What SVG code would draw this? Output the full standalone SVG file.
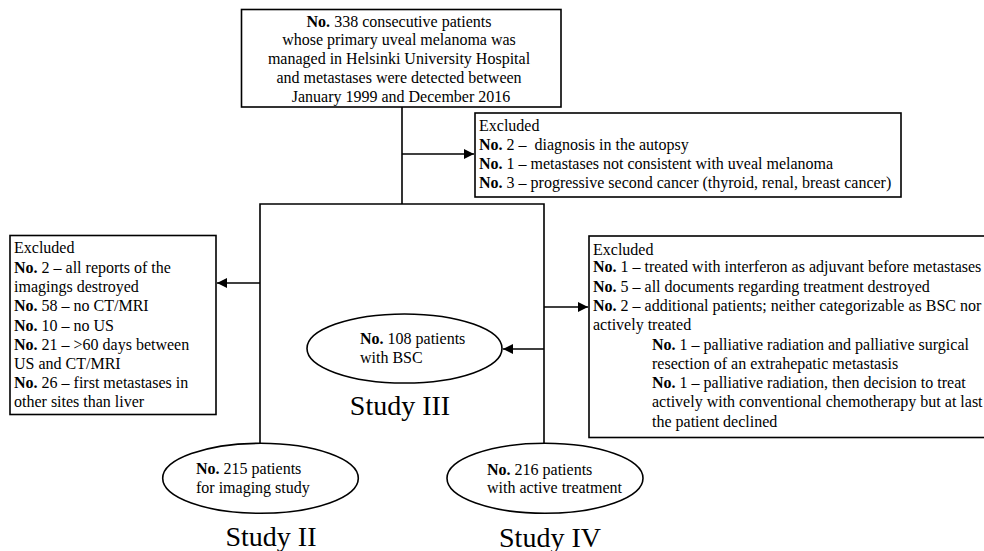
<svg xmlns="http://www.w3.org/2000/svg" width="984" height="551" viewBox="0 0 984 551" font-family="'Liberation Serif', 'DejaVu Serif', serif">
<defs>
<style>
text{font-family:'Liberation Serif','DejaVu Serif',serif;font-size:16px;fill:#000}
.b{font-weight:bold}
.big{font-size:28px}
.box{fill:#fff;stroke:#000;stroke-width:1.6}
.ln{fill:none;stroke:#000;stroke-width:1.6}
</style>
<marker id="ah" viewBox="0 0 10 10" refX="10" refY="5" markerWidth="10" markerHeight="10" markerUnits="userSpaceOnUse" orient="auto">
<path d="M0,0 L10,5 L0,10 z" fill="#000"/>
</marker>
</defs>
<rect width="984" height="551" fill="#fff"/>
<g id="connectors">
<path class="ln" d="M402,107 V204"/>
<path class="ln" d="M402,154 H474" marker-end="url(#ah)"/>
<path class="ln" d="M260,443 V204 H544 V443"/>
<path class="ln" d="M260,283 H217" marker-end="url(#ah)"/>
<path class="ln" d="M544,307 H588" marker-end="url(#ah)"/>
<path class="ln" d="M544,349 H503" marker-end="url(#ah)"/>
</g>
<g id="start">
<rect class="box" x="241.5" y="9.5" width="319.5" height="97.5"/>
<text text-anchor="middle" x="401">
<tspan x="401" y="26.5"><tspan class="b">No.</tspan> 338 consecutive patients</tspan>
<tspan x="401" y="45.3">whose primary uveal melanoma was</tspan>
<tspan x="401" y="64.1">managed in Helsinki University Hospital</tspan>
<tspan x="401" y="82.9">and metastases were detected between</tspan>
<tspan x="401" y="101.7">January 1999 and December 2016</tspan>
</text>
</g>
<g id="excluded1">
<rect class="box" x="475" y="113" width="426" height="84"/>
<text xml:space="preserve">
<tspan x="479" y="131">Excluded</tspan>
<tspan x="479" y="150"><tspan class="b">No.</tspan> 2 –  diagnosis in the autopsy</tspan>
<tspan x="479" y="169"><tspan class="b">No.</tspan> 1 – metastases not consistent with uveal melanoma</tspan>
<tspan x="479" y="188"><tspan class="b">No.</tspan> 3 – progressive second cancer (thyroid, renal, breast cancer)</tspan>
</text>
</g>
<g id="excluded2">
<rect class="box" x="10" y="235.5" width="206" height="179"/>
<text>
<tspan x="14" y="253.3">Excluded</tspan>
<tspan x="14" y="273"><tspan class="b">No.</tspan> 2 – all reports of the</tspan>
<tspan x="14" y="292">imagings destroyed</tspan>
<tspan x="14" y="311"><tspan class="b">No.</tspan> 58 – no CT/MRI</tspan>
<tspan x="14" y="330.5"><tspan class="b">No.</tspan> 10 – no US</tspan>
<tspan x="14" y="349.5"><tspan class="b">No.</tspan> 21 – &gt;60 days between</tspan>
<tspan x="14" y="368.8">US and CT/MRI</tspan>
<tspan x="14" y="387.8"><tspan class="b">No.</tspan> 26 – first metastases in</tspan>
<tspan x="14" y="406.7">other sites than liver</tspan>
</text>
</g>
<g id="excluded3">
<rect class="box" x="589" y="236" width="400" height="201.5"/>
<text>
<tspan x="593" y="254.5">Excluded</tspan>
<tspan x="593" y="272"><tspan class="b">No.</tspan> 1 – treated with interferon as adjuvant before metastases</tspan>
<tspan x="593" y="291.5"><tspan class="b">No.</tspan> 5 – all documents regarding treatment destroyed</tspan>
<tspan x="593" y="311"><tspan class="b">No.</tspan> 2 – additional patients; neither categorizable as BSC nor</tspan>
<tspan x="593" y="330.2">actively treated</tspan>
<tspan x="652" y="349.6"><tspan class="b">No.</tspan> 1 – palliative radiation and palliative surgical</tspan>
<tspan x="652" y="368.8">resection of an extrahepatic metastasis</tspan>
<tspan x="652" y="388"><tspan class="b">No.</tspan> 1 – palliative radiation, then decision to treat</tspan>
<tspan x="652" y="407.4">actively with conventional chemotherapy but at last</tspan>
<tspan x="652" y="426.6">the patient declined</tspan>
</text>
</g>
<g id="bsc">
<ellipse class="box" cx="404.5" cy="348.5" rx="97.5" ry="34.5"/>
<text>
<tspan x="360" y="343.5"><tspan class="b">No.</tspan> 108 patients</tspan>
<tspan x="360" y="362.5">with BSC</tspan>
</text>
<text class="big" text-anchor="middle" x="400" y="415">Study III</text>
</g>
<g id="imaging">
<ellipse class="box" cx="260.5" cy="478.3" rx="97.8" ry="35"/>
<text>
<tspan x="196" y="474"><tspan class="b">No.</tspan> 215 patients</tspan>
<tspan x="196" y="493">for imaging study</tspan>
</text>
<text class="big" text-anchor="middle" x="271" y="545.5">Study II</text>
</g>
<g id="active">
<ellipse class="box" cx="545" cy="478.3" rx="98" ry="35"/>
<text>
<tspan x="487" y="474.5"><tspan class="b">No.</tspan> 216 patients</tspan>
<tspan x="487" y="493">with active treatment</tspan>
</text>
<text class="big" text-anchor="middle" x="550" y="546.5">Study IV</text>
</g>
</svg>
